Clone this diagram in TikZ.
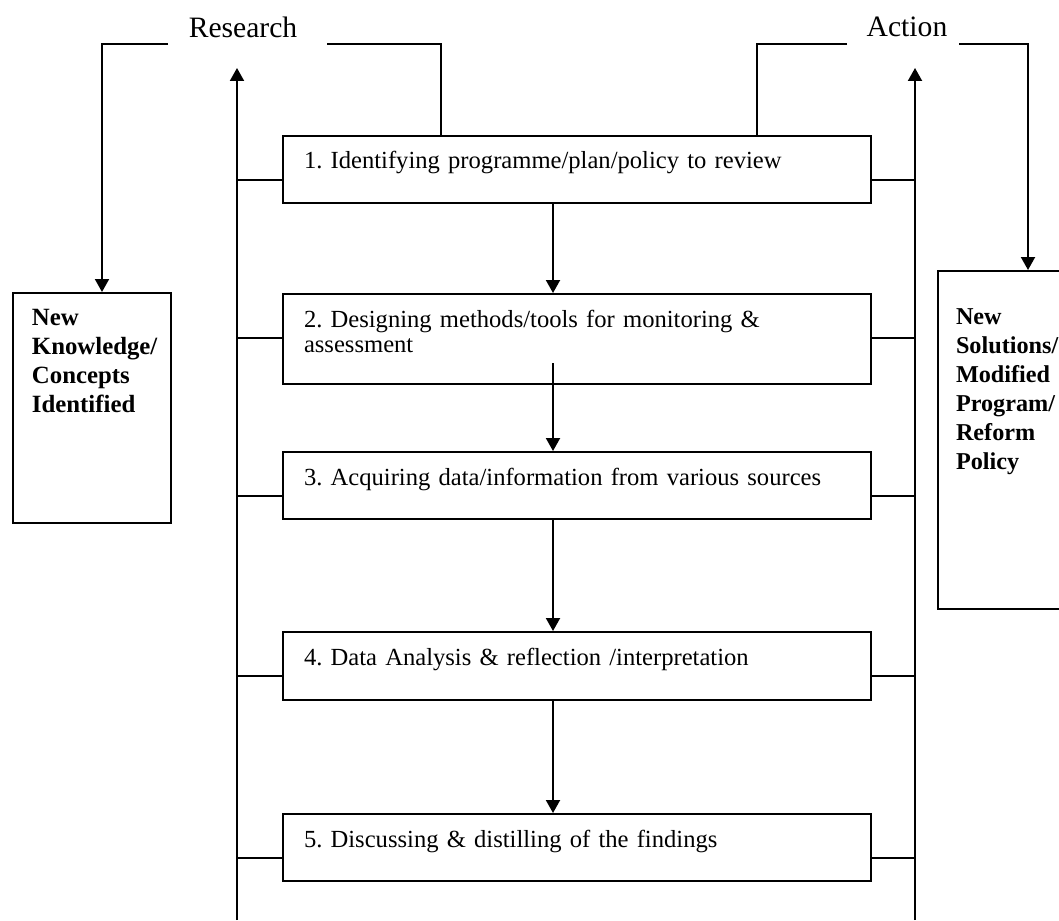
\documentclass[tikz,border=0pt]{standalone}
\usepackage{fontspec}
\setmainfont{Liberation Serif}
\usetikzlibrary{arrows.meta, positioning, calc}

\begin{document}
\frenchspacing
\begin{tikzpicture}[x=0.5pt, y=-0.5pt]
    \tikzstyle{stage} = [draw, line width=1pt, anchor=north west, inner xsep=10.5pt, inner ysep=0pt, text width=273pt, align=left, text height=16.5pt, font=\fontsize{12.3}{12.5}\selectfont];
    \tikzstyle{outcome} = [draw, line width=1pt, anchor=north west, inner xsep=9.5pt, inner ysep=0pt, align=left, font=\bfseries\fontsize{12.4}{14.5}\selectfont];
    \tikzstyle{heading} = [inner sep=0pt, font=\fontsize{14.8}{16}\selectfont];
    \tikzstyle{arr} = [-{Triangle[length=6.5pt,width=7pt]}, line width=1pt];
    \tikzstyle{wire} = [line width=1pt];

    \useasboundingbox (0,0) rectangle (1059,920);
    \clip (0,0) rectangle (1059,920);

    \node[heading] (research) at (243,27) {Research};
    \node[heading] (action) at (907,27) {Action};

    \node[stage, text depth=17pt] (B1) at (282,135) {1. Identifying programme/plan/policy to review};
    \node[stage, text depth=28.5pt] (B2) at (282,293) {2. Designing methods/tools for monitoring \&\\ assessment};
    \node[stage, text depth=17pt] (B3) at (282,451) {3. Acquiring data/information from various sources};
    \node[stage, text depth=17.5pt] (B4) at (282,631) {4. Data Analysis \& reflection /interpretation};
    \node[stage, text depth=17pt] (B5) at (282,813) {5. Discussing \& distilling of the findings};

    \node[outcome, text width=60pt, text height=16pt, text depth=99pt] (L) at (12,292) {New\\ Knowledge/\\ Concepts\\ Identified};
    \node[outcome, inner xsep=9pt, text width=100pt, text height=26.5pt, text depth=142.5pt, font=\bfseries\fontsize{12.1}{14.5}\selectfont] (S) at (937,270) {New\\ Solutions/\\ Modified\\ Program/\\ Reform\\ Policy};

    \coordinate (R0) at (102,44);
    \coordinate (R1) at (168,44);
    \coordinate (R2) at (327,44);
    \coordinate (R3) at (441,44);
    \coordinate (A0) at (757,44);
    \coordinate (A1) at (847,44);
    \coordinate (A2) at (959,44);
    \coordinate (A3) at (1028,44);
    \coordinate (LB) at (237,920);
    \coordinate (LT) at (237,68);
    \coordinate (RB) at (915,920);
    \coordinate (RT) at (915,68);
    \coordinate (mid) at (553,0);

    \draw[arr] (R1) -- (R0) -- (R0 |- L.north);
    \draw[wire] (R2) -- (R3) -- (R3 |- B1.north);
    \draw[wire] (A1) -- (A0) -- (A0 |- B1.north);
    \draw[arr] (A2) -- (A3) -- (A3 |- S.north);
    \draw[arr] (LB) -- (LT);
    \draw[arr] (RB) -- (RT);

    \draw[arr] (B1.south -| mid) -- (B2.north -| mid);
    \draw[arr] ($(B2.south -| mid)+(0,-22)$) -- (B3.north -| mid);
    \draw[arr] (B3.south -| mid) -- (B4.north -| mid);
    \draw[arr] (B4.south -| mid) -- (B5.north -| mid);

    \foreach \i in {1,...,5} {
        \coordinate (t\i) at ($(B\i.north west)+(0,45)$);
        \draw[wire] (t\i -| LB) -- (t\i);
        \draw[wire] (t\i -| B\i.east) -- (t\i -| RB);
    }
\end{tikzpicture}
\end{document}
